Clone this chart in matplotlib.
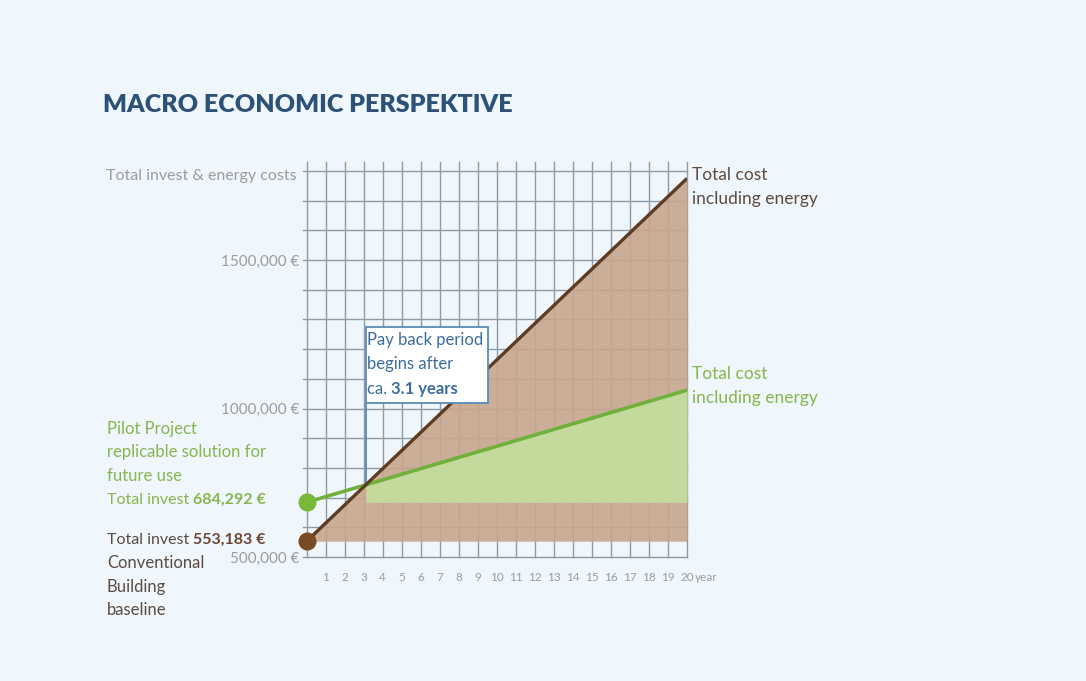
import numpy as np
import matplotlib
matplotlib.use("Agg")
import matplotlib.pyplot as plt
from matplotlib.patches import Rectangle

plt.rcParams['font.family'] = ['Lato', 'DejaVu Sans']

# ---- data -------------------------------------------------------------
years = [0, 20]
conventional_total = [553183, 1775000]   # total cost incl. energy, conventional building
pilot_total = [684292, 1062000]          # total cost incl. energy, pilot project
conventional_invest = 553183
pilot_invest = 684292
payback_label = "3.1 years"

y_tick_values = [500000, 1000000, 1500000]
y_tick_labels = ["500,000 €", "1000,000 €", "1500,000 €"]
x_tick_values = list(range(1, 21))
x_tick_labels = [str(v) for v in x_tick_values]

# ---- colours ------------------------------------------------------------
BG = "#EFF6FC"
GRID = "#8E9BA6"
BROWN_FILL = "#C8A68C"
GREEN_FILL = "#C4DD9E"
BROWN_LINE = "#5E3C24"
GREEN_LINE = "#6FB13A"
BROWN_DOT = "#7A4A22"
GREEN_DOT = "#79B93A"
GREEN_TEXT = "#87B64C"
BROWN_TEXT = "#5B4B40"
GREY_TEXT = "#9C9C9C"
TITLE = "#2E5277"
BOX_BLUE = "#5A8AB8"
BOX_TEXT = "#3D6C9F"

W, H = 1086, 681
fig = plt.figure(figsize=(W / 100, H / 100), dpi=100, facecolor=BG)


def px(x, y):
    return x / W, 1 - y / H


ax = fig.add_axes([306.7 / W, 1 - 557 / H, (687 - 306.7) / W, (557 - 171) / H])
ax.set_facecolor(BG)
ax.set_xlim(0, 20)
ax.set_ylim(500000, 1800000)
for s in ax.spines.values():
    s.set_visible(False)

# grid
for xv in range(0, 21):
    ax.plot([xv, xv], [500000, 1830000], color=GRID, lw=1.0, zorder=0.5, clip_on=False)
for yv in range(500000, 1800001, 100000):
    ax.plot([-0.2, 20], [yv, yv], color=GRID, lw=1.0, zorder=0.5, clip_on=False)

# crossing point of the two cost lines
slope_c = (conventional_total[1] - conventional_total[0]) / (years[1] - years[0])
slope_p = (pilot_total[1] - pilot_total[0]) / (years[1] - years[0])
xc = (pilot_total[0] - conventional_total[0]) / (slope_c - slope_p)
yc = np.interp(xc, years, pilot_total)

# fills
ax.fill_between(years, conventional_invest, conventional_total, color=BROWN_FILL,
                alpha=0.9, lw=0, zorder=1)
ax.fill_between([xc, years[-1]], pilot_invest, [yc, pilot_total[-1]], color=GREEN_FILL,
                alpha=0.95, lw=0, zorder=1.1)

# lines and start markers
ax.plot(years, pilot_total, color=GREEN_LINE, lw=2.6, zorder=3, solid_capstyle='butt')
ax.plot(years, conventional_total, color=BROWN_LINE, lw=2.4, zorder=3.2, solid_capstyle='butt')
ax.plot([0], [pilot_invest], 'o', ms=12, color=GREEN_DOT, zorder=4, clip_on=False)
ax.plot([0], [conventional_invest], 'o', ms=12, color=BROWN_DOT, zorder=4, clip_on=False)

# ticks
ax.set_yticks(y_tick_values)
ax.set_yticklabels(y_tick_labels)
ax.tick_params(axis='y', length=0, pad=5, labelsize=11, labelcolor=GREY_TEXT)
ax.set_xticks(x_tick_values)
ax.set_xticklabels(x_tick_labels)
ax.tick_params(axis='x', length=0, pad=11, labelsize=8.5, labelcolor=GREY_TEXT)
ax.annotate("year", xy=(20, 0), xycoords=('data', 'axes fraction'), xytext=(6, -15),
            textcoords='offset points', ha='left', va='center', fontsize=8.5, color=GREY_TEXT)

# payback annotation box
box_bottom, box_top, box_right = 1018000, 1274000, 9.53
ax.add_patch(Rectangle((xc, box_bottom), box_right - xc, box_top - box_bottom,
                       facecolor="white", edgecolor=BOX_BLUE, lw=1.3, zorder=5))
ax.plot([xc, xc], [yc, box_bottom], color=BOX_BLUE, lw=1.3, zorder=2.9)


def mixed(x, y, normal, bold, color, size, bold_color=None):
    t = fig.text(*px(x, y), normal, color=color, fontsize=size, ha='left', va='center',
                 zorder=10)
    ann = ax.annotate(bold, xy=(1, 0), xycoords=t, xytext=(0, 0), textcoords='offset points',
                      ha='left', va='bottom', color=bold_color or color, fontsize=size,
                      fontweight='bold', annotation_clip=False, zorder=10)
    return t, ann


fig.text(*px(367, 340), "Pay back period", color=BOX_TEXT, fontsize=12, va='center', zorder=10)
fig.text(*px(367, 364), "begins after", color=BOX_TEXT, fontsize=12, va='center', zorder=10)
mixed(367, 389, "ca. ", payback_label, BOX_TEXT, 12)

# title and axis label
fig.text(*px(103, 105), "MACRO ECONOMIC PERSPEKTIVE", color=TITLE, fontsize=18,
         fontweight='heavy', va='center', ha='left')
fig.text(*px(297, 176), "Total invest & energy costs", color=GREY_TEXT, fontsize=11.5,
         va='center', ha='right')

# right-hand line labels
fig.text(*px(692, 175), "Total cost", color=BROWN_TEXT, fontsize=12.5, va='center')
fig.text(*px(692, 199), "including energy", color=BROWN_TEXT, fontsize=12.5, va='center')
fig.text(*px(692, 374), "Total cost", color=GREEN_TEXT, fontsize=12.5, va='center')
fig.text(*px(692, 398), "including energy", color=GREEN_TEXT, fontsize=12.5, va='center')

# left-hand descriptions
fig.text(*px(107, 429), "Pilot Project", color=GREEN_TEXT, fontsize=12, va='center')
fig.text(*px(107, 452), "replicable solution for", color=GREEN_TEXT, fontsize=12, va='center')
fig.text(*px(107, 476), "future use", color=GREEN_TEXT, fontsize=12, va='center')
mixed(107, 500, "Total invest ", f"{pilot_invest:,} €", GREEN_TEXT, 11.5)

mixed(107, 540, "Total invest ", f"{conventional_invest:,} €", BROWN_TEXT, 11.5, "#6A4530")
fig.text(*px(107, 563), "Conventional", color=BROWN_TEXT, fontsize=12, va='center')
fig.text(*px(107, 587), "Building", color=BROWN_TEXT, fontsize=12, va='center')
fig.text(*px(107, 610), "baseline", color=BROWN_TEXT, fontsize=12, va='center')

fig.savefig("out.png", dpi=100, facecolor=BG)
